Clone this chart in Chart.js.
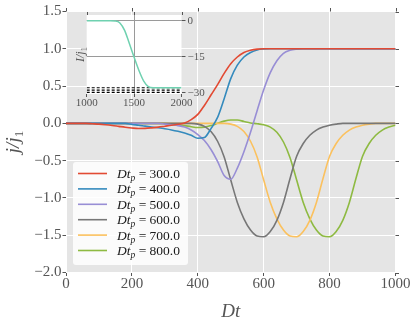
<!DOCTYPE html>
<html>
<head>
<meta charset="utf-8">
<script src="https://cdn.jsdelivr.net/npm/chart.js@4.4.1/dist/chart.umd.min.js"></script>
<style>
    html, body { margin: 0; padding: 0; background: #fff; }
    #wrap { position: relative; width: 415px; height: 321px; }
    #main { position: absolute; left: 0; top: 0; }
    #inset { position: absolute; left: 60px; top: 0; }
</style>
</head>
<body>
<div id="wrap">
    <canvas id="main" width="415" height="321"></canvas>
    <canvas id="inset" width="160" height="112"></canvas>
</div>
<script>
// ---- data ----
const dtValues = [0, 20, 40, 60, 80, 100, 120, 140, 160, 180, 200, 220, 240, 260, 280, 300, 320, 340, 360, 380,
    400, 420, 440, 460, 480, 500, 520, 540, 560, 580, 600, 620, 640, 660, 680, 700, 720, 740, 760, 780,
    800, 820, 840, 860, 880, 900, 920, 940, 960, 980, 1000];

const pulseDt = [300, 400, 500, 600, 700, 800];

const ratioDt300 = [0, 0, 0, 0, -0.005, -0.01, -0.018, -0.028, -0.04, -0.052, -0.062, -0.068, -0.067, -0.06, -0.05,
    -0.038, -0.026, -0.012, 0.005, 0.05, 0.12, 0.24, 0.38, 0.52, 0.67, 0.8, 0.89, 0.95, 0.98, 0.995,
    1, 1, 1, 1, 1, 1, 1, 1, 1, 1, 1, 1, 1, 1, 1, 1, 1, 1, 1, 1, 1];
const ratioDt400 = [0, 0, 0, 0, 0, 0, 0, 0, 0, 0, -0.015, -0.025, -0.037, -0.048, -0.06, -0.073, -0.088, -0.107,
    -0.13, -0.16, -0.2, -0.19, -0.07, 0.08, 0.33, 0.6, 0.78, 0.89, 0.95, 0.985, 0.997,
    1, 1, 1, 1, 1, 1, 1, 1, 1, 1, 1, 1, 1, 1, 1, 1, 1, 1, 1, 1];
const ratioDt500 = [0, 0, 0, 0, 0, 0, 0, 0, 0, 0, 0, 0, 0, 0, 0, -0.01, -0.02, -0.03, -0.05, -0.09, -0.15, -0.23,
    -0.35, -0.51, -0.7, -0.75, -0.6, -0.38, -0.12, 0.17, 0.45, 0.68, 0.84, 0.94, 0.98, 0.995,
    1, 1, 1, 1, 1, 1, 1, 1, 1, 1, 1, 1, 1, 1, 1];
const ratioDt600 = [0, 0, 0, 0, 0, 0, 0, 0, 0, 0, 0, 0, 0, 0, 0, 0, 0, 0, 0, 0, -0.01, -0.04, -0.11, -0.24, -0.45,
    -0.76, -1.06, -1.28, -1.43, -1.51, -1.52, -1.45, -1.3, -1.06, -0.74, -0.44, -0.27, -0.16, -0.09, -0.05,
    -0.025, -0.01, 0, 0, 0, 0, 0, 0, 0, 0, 0];
const ratioDt700 = [0, 0, 0, 0, 0, 0, 0, 0, 0, 0, 0, 0, 0, 0, 0, 0, 0, 0, 0, 0, 0, 0, 0, 0, 0, -0.01, -0.04, -0.11,
    -0.24, -0.45, -0.76, -1.06, -1.28, -1.43, -1.51, -1.52, -1.45, -1.3, -1.06, -0.74, -0.44, -0.27, -0.16,
    -0.09, -0.05, -0.025, -0.01, 0, 0, 0, 0];
const ratioDt800 = [0, 0, 0, 0, 0, 0, 0, 0, 0, 0, 0, 0, 0, 0, 0, 0, -0.01, -0.02, -0.03, -0.045, -0.055, -0.05,
    -0.03, 0, 0.03, 0.045, 0.045, 0.025, 0.005, -0.005, -0.02, -0.05, -0.12, -0.25, -0.46, -0.76, -1.06, -1.28,
    -1.43, -1.51, -1.52, -1.45, -1.3, -1.06, -0.74, -0.44, -0.27, -0.16, -0.09, -0.05, -0.025];

const xTicks = [0, 200, 400, 600, 800, 1000];
const yTicks = [-2, -1.5, -1, -0.5, 0, 0.5, 1, 1.5];

// inset
const insetTime = [1000, 1100, 1200, 1250, 1300, 1350, 1400, 1450, 1500, 1550, 1600, 1650, 1700, 1800, 1900, 2000];
const insetCurrent = [0, 0, 0, 0, -0.1, -0.9, -4.0, -9.5, -15.2, -20.6, -25.0, -27.4, -27.9, -27.9, -27.9, -27.9];
const insetDashLevels = [-27.9, -28.9, -29.8];
const insetXTicks = [1000, 1500, 2000];
const insetYTicks = [0, -15, -30];

const SERIF = '"Liberation Serif", "DejaVu Serif", serif';
const lineColors = ['#E24A33', '#348ABD', '#988ED5', '#777777', '#FBC15E', '#8EBA42'];
const TICK_GRAY = '#555555';

const seriesValues = [ratioDt300, ratioDt400, ratioDt500, ratioDt600, ratioDt700, ratioDt800];

function minusFmt(v, digits) {
    const s = Math.abs(v).toFixed(digits);
    return (v < 0 ? '\u2212' : '') + s;
}

function runsWidth(ctx, runs) {
    let w = 0;
    runs.forEach((r) => {
        ctx.font = (r.italic ? 'italic ' : '') + r.size + 'px ' + SERIF;
        w += ctx.measureText(r.text).width;
    });
    return w;
}

function drawRuns(ctx, runs, x, y) {
    let cx = x;
    runs.forEach((r) => {
        ctx.font = (r.italic ? 'italic ' : '') + r.size + 'px ' + SERIF;
        ctx.fillText(r.text, cx, y + (r.dy || 0));
        cx += ctx.measureText(r.text).width;
    });
}

const panelBackground = {
    id: 'panelBackground',
    beforeDraw(chart, args, opts) {
        const { ctx, chartArea: a } = chart;
        ctx.save();
        ctx.fillStyle = opts.color;
        ctx.fillRect(a.left, a.top, a.right - a.left, a.bottom - a.top);
        ctx.restore();
    },
};

const mirrorTicks = {
    id: 'mirrorTicks',
    afterDraw(chart, args, opts) {
        const { ctx, chartArea: a } = chart;
        const xs = chart.scales.x;
        const ys = chart.scales.y;
        ctx.save();
        ctx.strokeStyle = TICK_GRAY;
        ctx.lineWidth = 1;
        ctx.beginPath();
        xs.ticks.forEach((t) => {
            const px = Math.round(xs.getPixelForValue(t.value)) + 0.5;
            ctx.moveTo(px, a.top - opts.len);
            ctx.lineTo(px, a.top);
        });
        if (opts.right) {
            ys.ticks.forEach((t) => {
                const py = Math.round(ys.getPixelForValue(t.value)) + 0.5;
                ctx.moveTo(a.right, py);
                ctx.lineTo(a.right + opts.len, py);
            });
        }
        ctx.stroke();
        ctx.restore();
    },
};

const mainText = {
    id: 'mainText',
    afterDatasetsDraw(chart) {
        const { ctx, chartArea: a } = chart;
        ctx.save();
        ctx.textBaseline = 'alphabetic';

        // x label
        ctx.fillStyle = TICK_GRAY;
        const xRuns = [{ text: 'Dt', italic: true, size: 19 }];
        drawRuns(ctx, xRuns, (a.left + a.right) / 2 - runsWidth(ctx, xRuns) / 2, 317);

        // y label
        const yRuns = [{ text: 'j/j', italic: true, size: 19 }, { text: '1', size: 13, dy: 4 }];
        ctx.save();
        ctx.translate(19, (a.top + a.bottom) / 2);
        ctx.rotate(-Math.PI / 2);
        drawRuns(ctx, yRuns, -runsWidth(ctx, yRuns) / 2, 0);
        ctx.restore();

        // legend
        const box = { left: 73, top: 162, right: 188, bottom: 265 };
        ctx.fillStyle = 'rgba(255,255,255,0.85)';
        ctx.beginPath();
        ctx.roundRect(box.left, box.top, box.right - box.left, box.bottom - box.top, 3);
        ctx.fill();
        pulseDt.forEach((dt, i) => {
            const cy = 173.5 + i * 15.4;
            ctx.strokeStyle = lineColors[i];
            ctx.lineWidth = 1.6;
            ctx.beginPath();
            ctx.moveTo(78, cy);
            ctx.lineTo(107, cy);
            ctx.stroke();
            ctx.fillStyle = '#1a1a1a';
            drawRuns(ctx, [
                { text: 'Dt', italic: true, size: 13.5 },
                { text: 'p', italic: true, size: 9.5, dy: 3 },
                { text: ' = ' + dt.toFixed(1), size: 13.5 },
            ], 117, cy + 4.5);
        });
        ctx.restore();
    },
};

new Chart(document.getElementById('main'), {
    type: 'line',
    data: {
        datasets: seriesValues.map((vals, i) => ({
            label: 'Dt_p = ' + pulseDt[i].toFixed(1),
            data: dtValues.map((x, k) => ({ x, y: vals[k] })),
            borderColor: lineColors[i],
            borderWidth: 1.6,
            pointRadius: 0,
            fill: false,
            cubicInterpolationMode: 'monotone',
        })),
    },
    options: {
        responsive: false,
        animation: false,
        devicePixelRatio: 1,
        layout: { padding: { top: 11.5, right: 19.5, left: 0, bottom: 0 } },
        plugins: {
            legend: { display: false },
            tooltip: { enabled: false },
            panelBackground: { color: '#E5E5E5' },
            mirrorTicks: { len: 3.5, right: true },
        },
        scales: {
            x: {
                type: 'linear',
                min: 0,
                max: 1000,
                afterBuildTicks: (s) => { s.ticks = xTicks.map((v) => ({ value: v })); },
                afterFit: (s) => { s.height = 48.5; },
                grid: { color: '#ffffff', lineWidth: 1, tickColor: TICK_GRAY, tickLength: 3.5 },
                border: { display: false },
                ticks: {
                    color: TICK_GRAY,
                    font: { family: SERIF, size: 15 },
                    padding: -1,
                    maxRotation: 0,
                    callback: (v) => String(v),
                },
            },
            y: {
                type: 'linear',
                min: -2,
                max: 1.5,
                afterBuildTicks: (s) => { s.ticks = yTicks.map((v) => ({ value: v })); },
                afterFit: (s) => { s.width = 66; },
                grid: { color: '#ffffff', lineWidth: 1, tickColor: TICK_GRAY, tickLength: 3.5 },
                border: { display: false },
                ticks: {
                    color: TICK_GRAY,
                    font: { family: SERIF, size: 15 },
                    padding: 1,
                    callback: (v) => minusFmt(v, 1),
                },
            },
        },
    },
    plugins: [panelBackground, mirrorTicks, mainText],
});

// ---- inset ----
const insetText = {
    id: 'insetText',
    afterDraw(chart) {
        const { ctx, chartArea: a } = chart;
        ctx.save();
        ctx.fillStyle = TICK_GRAY;
        ctx.textBaseline = 'alphabetic';
        const runs = [{ text: 'I/j', italic: true, size: 12 }, { text: '1', size: 8.5, dy: 2.5 }];
        ctx.translate(24, (a.top + a.bottom) / 2);
        ctx.rotate(-Math.PI / 2);
        drawRuns(ctx, runs, -runsWidth(ctx, runs) / 2, 0);
        ctx.restore();
    },
};

const GRID_GRAY = '#9a9a9a';

new Chart(document.getElementById('inset'), {
    type: 'line',
    data: {
        datasets: [
            {
                label: 'I',
                data: insetTime.map((x, k) => ({ x, y: insetCurrent[k] })),
                borderColor: '#6fd1b0',
                borderWidth: 1.5,
                pointRadius: 0,
                fill: false,
                cubicInterpolationMode: 'monotone',
                order: 0,
            },
            ...insetDashLevels.map((lvl) => ({
                label: 'level',
                data: [{ x: insetXTicks[0], y: lvl }, { x: insetXTicks[insetXTicks.length - 1], y: lvl }],
                borderColor: '#000000',
                borderWidth: 1.2,
                borderDash: [3, 2],
                pointRadius: 0,
                fill: false,
                order: 1,
            })),
        ],
    },
    options: {
        responsive: false,
        animation: false,
        devicePixelRatio: 1,
        layout: { padding: { top: 15, left: 26.7, right: 0, bottom: 0 } },
        plugins: {
            legend: { display: false },
            tooltip: { enabled: false },
            panelBackground: { color: '#ffffff' },
            mirrorTicks: { len: 3, right: false },
        },
        scales: {
            x: {
                type: 'linear',
                min: 1000,
                max: 2000,
                afterBuildTicks: (s) => { s.ticks = insetXTicks.map((v) => ({ value: v })); },
                afterFit: (s) => { s.height = 18; },
                grid: {
                    color: (c) => (c.tick && c.tick.value === 1500 ? GRID_GRAY : 'rgba(0,0,0,0)'),
                    lineWidth: 1,
                    tickColor: TICK_GRAY,
                    tickLength: 3,
                },
                border: { display: false },
                ticks: {
                    color: TICK_GRAY,
                    font: { family: SERIF, size: 11 },
                    padding: 0,
                    maxRotation: 0,
                    callback: (v) => String(v),
                },
            },
            y: {
                type: 'linear',
                position: 'right',
                min: -30.5,
                max: 2.4,
                afterBuildTicks: (s) => { s.ticks = insetYTicks.map((v) => ({ value: v })); },
                afterFit: (s) => { s.width = 38.5; },
                grid: {
                    color: (c) => (c.tick && c.tick.value > -20 ? GRID_GRAY : 'rgba(0,0,0,0)'),
                    lineWidth: 1,
                    tickColor: TICK_GRAY,
                    tickLength: 4,
                },
                border: { display: false },
                ticks: {
                    color: TICK_GRAY,
                    font: { family: SERIF, size: 11 },
                    padding: 2,
                    callback: (v) => minusFmt(v, 0),
                },
            },
        },
    },
    plugins: [panelBackground, mirrorTicks, insetText],
});
</script>
</body>
</html>
